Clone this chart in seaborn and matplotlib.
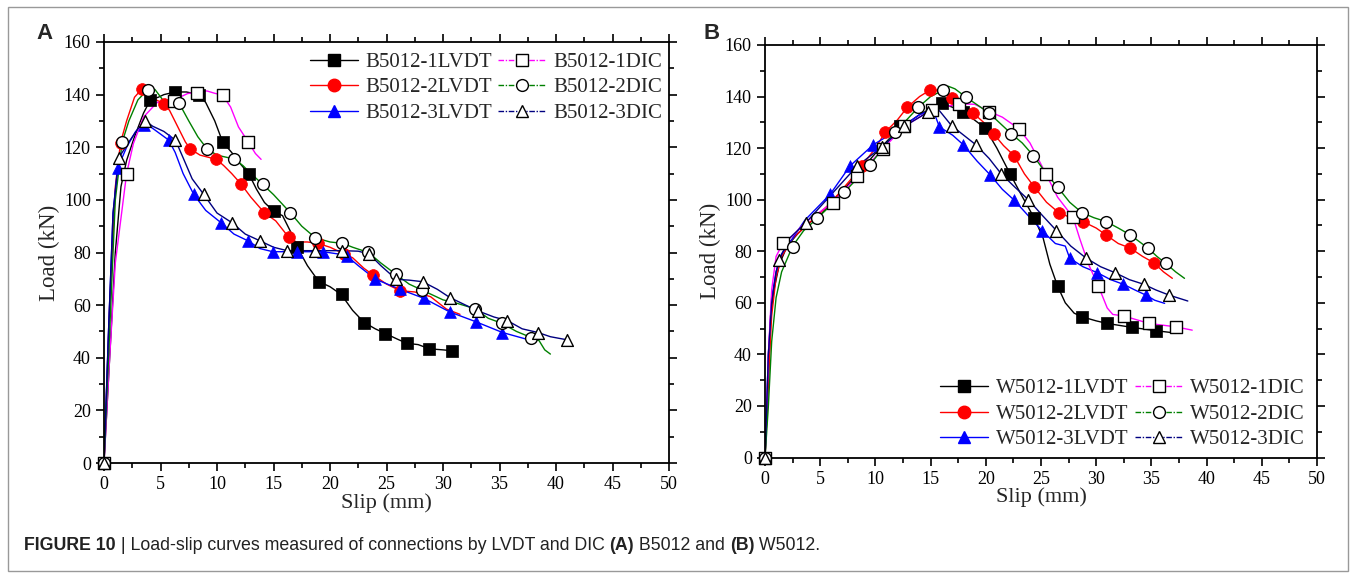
import matplotlib
matplotlib.use('Agg')
import matplotlib.pyplot as plt
from matplotlib.lines import Line2D
from matplotlib.patches import Rectangle
from matplotlib.ticker import MultipleLocator
import seaborn as sns

### DATA ###
## panel A - B5012
a1_lvdt_x = [0, 0.5, 1, 1.5, 2, 2.7, 3.5, 4.1, 4.8, 5.3, 6.3, 7.3, 8.4, 9, 9.8, 10.5, 11.3, 12, 12.8, 13.5, 14.2, 15, 15.8, 16.5, 17.1, 18, 19, 20, 21, 22, 23, 24, 25, 26, 26.8, 27.8, 28.8, 30, 31.2]
a1_lvdt_y = [0, 40, 80, 105, 115, 124, 133, 138, 139, 140, 141, 141, 140, 137, 130, 122, 118, 114, 110, 104, 99, 95.7, 94, 88, 82, 75, 69, 67, 64, 58, 53.5, 51, 49, 47, 45.5, 45, 43.4, 43, 42.5]
a1_lvdt_mx = [0, 4.1, 6.3, 8.4, 10.5, 12.8, 15.0, 17.1, 19.0, 21.1, 23.0, 24.9, 26.8, 28.8, 30.8]
a1_lvdt_my = [0, 138.1, 141.0, 139.8, 122.1, 109.8, 95.7, 82.0, 68.9, 64.2, 53.4, 49.0, 45.5, 43.4, 42.7]

a1_dic_x = [0, 0.5, 1.0, 2.0, 2.6, 3.5, 4.7, 6.2, 7.4, 9.1, 9.8, 10.5, 11.2, 11.9, 12.75, 13.4, 13.9]
a1_dic_y = [0, 40, 76, 110, 121.4, 131.5, 137, 138, 140.4, 141.4, 140.5, 139.8, 135.3, 127.7, 122.1, 117.6, 115.4]
a1_dic_mx = [0, 2.0, 6.2, 8.2, 10.5, 12.75]
a1_dic_my = [0, 109.8, 137.6, 140.7, 139.8, 122.1]

a2_lvdt_x = [0, 0.5, 1, 1.46, 2, 2.7, 3.38, 4, 4.6, 5.29, 5.8, 6.5, 7.2, 7.65, 8.5, 9.95, 10.6, 11.3, 12.13, 13, 14.19, 15.2, 16.34, 17, 18, 18.9, 20, 21, 22, 23, 23.8, 25, 26.2, 27.5, 28.9, 30.3, 31.5]
a2_lvdt_y = [0, 60, 105, 121.7, 130, 139, 142.3, 141, 138, 136.6, 134, 128, 122, 119.3, 117, 115.4, 113, 110, 106, 101, 95.1, 92, 85.8, 84, 84, 83.5, 82, 80, 78, 74, 71.5, 68, 65.5, 65, 63.2, 58.5, 56.5]
a2_lvdt_mx = [0, 1.46, 3.38, 5.29, 7.65, 9.95, 12.13, 14.19, 16.34, 18.9, 21.2, 23.8, 26.2]
a2_lvdt_my = [0, 121.7, 142.3, 136.6, 119.3, 115.4, 106.0, 95.1, 85.8, 83.5, 79.5, 71.5, 65.5]

a2_dic_x = [0, 0.5, 1, 1.61, 2.2, 3, 3.87, 4.5, 5.2, 6.61, 7.5, 8.3, 9.13, 10, 11.54, 12.3, 13, 14.04, 15, 16.49, 17.5, 18.7, 20, 21.1, 22, 23.4, 24.5, 25.8, 27, 28.1, 29, 30, 31, 32.85, 34, 35.2, 36.5, 37.8, 38.5, 39, 39.5]
a2_dic_y = [0, 50, 100, 122, 130, 138, 141.9, 142, 138, 137, 130, 124, 119.3, 117, 115.5, 113, 110, 105.9, 102, 95.1, 90, 85.6, 84, 83.5, 82, 80, 76, 71.8, 68, 65.8, 64, 62, 61, 58.6, 55, 53.1, 50, 47.7, 46.5, 43, 41.4]
a2_dic_mx = [0, 1.61, 3.87, 6.61, 9.13, 11.54, 14.04, 16.49, 18.7, 21.1, 23.4, 25.8, 28.1, 32.85, 35.2, 37.8]
a2_dic_my = [0, 122.1, 141.9, 137.0, 119.3, 115.5, 105.9, 95.1, 85.6, 83.5, 80.3, 71.8, 65.8, 58.6, 53.1, 47.7]

a3_lvdt_x = [0, 0.4, 0.8, 1.2, 2, 2.8, 3.5, 4.2, 5, 5.73, 6.3, 7, 7.94, 9, 10.36, 11.5, 12.71, 13.8, 14.93, 17.08, 19.38, 21.4, 22.5, 24, 26.2, 28.3, 30.6, 32.9, 35.26, 37.6]
a3_lvdt_y = [0, 50, 95, 112, 120, 126, 128.5, 127.5, 125, 122.7, 118, 110, 102.1, 96, 91.3, 87, 84.5, 81.5, 80.3, 80.3, 80.3, 79, 75, 69.9, 66, 62.6, 57.4, 53.7, 49.6, 46.8]
a3_lvdt_mx = [0, 1.2, 3.5, 5.73, 7.94, 10.36, 12.71, 14.93, 17.08, 19.38, 21.5, 24.0, 26.2, 28.3, 30.6, 32.9, 35.26]
a3_lvdt_my = [0, 112, 128.5, 122.7, 102.1, 91.3, 84.5, 80.3, 80.3, 80.3, 78.6, 69.9, 66, 62.6, 57.4, 53.7, 49.6]

a3_dic_x = [0, 0.4, 0.8, 1.31, 2.2, 3, 3.67, 4.3, 5.3, 6.32, 7, 7.8, 8.82, 10, 11.33, 12.5, 13.77, 15, 16.2, 18.64, 21.06, 22.5, 23.47, 24.5, 25.86, 27, 28.2, 29.5, 30.6, 32, 33.1, 34.5, 35.7, 37, 38.4, 39.5, 41]
a3_dic_y = [0, 50, 95, 116, 122, 127, 130, 128, 126, 122.7, 116, 108, 102.1, 95, 91.3, 87, 84.5, 82, 80.7, 80.7, 80.7, 80.5, 79.4, 75, 69.8, 69.5, 68.9, 66, 62.9, 60, 57.8, 55.5, 54.1, 51, 49.6, 48, 46.8]
a3_dic_mx = [0, 1.31, 3.67, 6.32, 8.82, 11.33, 13.77, 16.2, 18.64, 21.06, 23.47, 25.86, 28.2, 30.6, 33.1, 35.7, 38.4, 41.0]
a3_dic_my = [0, 116.0, 130.0, 122.7, 102.1, 91.3, 84.5, 80.7, 80.7, 80.7, 79.4, 69.8, 68.9, 62.9, 57.8, 54.1, 49.6, 46.8]

## panel B - W5012
b1_lvdt_x = [0, 0.3, 0.5, 0.8, 1.3, 2, 3, 4, 5, 6, 8, 10, 12, 14, 16, 17.96, 19.93, 21, 22.2, 23.2, 24.4, 25.2, 25.8, 26.5, 27.2, 28, 28.7, 30, 31, 33.2, 35.4, 36.75]
b1_lvdt_y = [0, 30, 55, 65, 75, 82, 87, 91, 94, 99, 108, 118, 127, 133, 137.5, 134.2, 127.8, 120, 110, 102, 92.8, 85, 75, 66.5, 60, 56, 54.6, 53, 52, 50.5, 49.2, 48.5]
b1_lvdt_mx = [0, 12.2, 16.0, 17.96, 19.93, 22.2, 24.4, 26.5, 28.7, 31.0, 33.2, 35.4]
b1_lvdt_my = [0, 128.4, 137.5, 134.2, 127.8, 110.0, 92.8, 66.5, 54.6, 52.0, 50.5, 49.2]

b1_dic_x = [0, 0.3, 0.6, 1, 1.6, 2.5, 3.6, 6.13, 8.36, 10.66, 12.6, 15.1, 17.6, 19, 20.3, 21.5, 23, 24, 25.45, 26.5, 27.9, 28.5, 29.3, 30.2, 31, 31.5, 32.5, 34.8, 37.2, 38.7]
b1_dic_y = [0, 40, 65, 78, 83, 86, 91, 98.9, 109, 119.6, 128.4, 134.9, 137.2, 137, 134.2, 132, 127.5, 122, 110, 101, 93.2, 85, 75, 66.5, 58, 55.5, 54.9, 52, 50.7, 49.4]
b1_dic_mx = [0, 1.6, 6.13, 8.36, 10.66, 12.6, 15.1, 17.6, 20.3, 23.0, 25.45, 27.9, 30.2, 32.5, 34.8, 37.2]
b1_dic_my = [0, 83.1, 98.9, 109.0, 119.6, 128.4, 134.9, 137.2, 134.2, 127.5, 110.0, 93.2, 66.5, 54.9, 52.0, 50.7]

b2_lvdt_x = [0, 0.3, 0.6, 1, 1.5, 2.5, 4, 6, 8, 8.76, 10, 10.87, 12, 12.9, 14, 14.9, 16, 16.9, 18, 18.8, 19.8, 20.7, 21.6, 22.55, 23.5, 24.4, 25.5, 26.6, 27.7, 28.8, 30, 30.9, 32, 33.1, 34.2, 35.2, 36.1, 36.9]
b2_lvdt_y = [0, 30, 55, 70, 78, 85, 91, 99, 109, 113.1, 120, 126.1, 131, 135.9, 140, 142.4, 142.5, 139.4, 136.5, 133.8, 130, 125.6, 121, 117.1, 110, 104.9, 99, 95, 93, 91.5, 89, 86.3, 83, 81.2, 78, 75.6, 72, 69.5]
b2_lvdt_mx = [0, 8.76, 10.87, 12.9, 14.9, 16.9, 18.8, 20.7, 22.55, 24.4, 26.6, 28.8, 30.9, 33.1, 35.2]
b2_lvdt_my = [0, 113.1, 126.1, 135.9, 142.4, 139.4, 133.8, 125.6, 117.1, 104.9, 95.0, 91.5, 86.3, 81.2, 75.6]

b2_dic_x = [0, 0.3, 0.6, 1, 1.5, 2.5, 3.5, 4.74, 7.16, 9.51, 11.78, 13.9, 15, 16.1, 16.6, 17.2, 18.2, 20.3, 22.3, 23.3, 24.3, 25.5, 26.5, 27.6, 28.7, 29.8, 30.9, 32, 33.1, 34.7, 35.5, 36.3, 37.2, 38]
b2_dic_y = [0, 20, 45, 62, 72, 82, 88, 92.8, 102.8, 113.5, 126.1, 135.9, 140, 142.4, 144, 143, 139.8, 133.6, 125.6, 122, 117.1, 110, 104.9, 99, 95, 93, 91.5, 89, 86.3, 81.2, 78, 75.3, 72, 69.5]
b2_dic_mx = [0, 2.5, 4.74, 7.16, 9.51, 11.78, 13.9, 16.1, 18.2, 20.3, 22.3, 24.3, 26.5, 28.7, 30.9, 33.1, 34.7, 36.3]
b2_dic_my = [0, 81.8, 92.8, 102.8, 113.5, 126.1, 135.9, 142.4, 139.8, 133.6, 125.6, 117.1, 104.9, 95.0, 91.5, 86.3, 81.2, 75.3]

b3_lvdt_x = [0, 0.3, 0.6, 1, 1.5, 2.5, 3.6, 5.9, 7.7, 9.8, 12, 14, 15.2, 15.8, 17, 17.96, 19.2, 20.4, 21.5, 22.55, 23.8, 25.1, 26.3, 27.2, 27.6, 28.8, 30.1, 31.3, 32.45, 33.5, 34.5, 35.3, 36.2]
b3_lvdt_y = [0, 40, 62, 72, 79, 85, 92, 102.1, 113.1, 121.3, 127, 133, 135, 128.2, 125, 121.3, 115, 109.6, 104, 99.9, 94, 88, 83, 82, 77.3, 74, 71.7, 69, 67.2, 65, 63, 61, 59.8]
b3_lvdt_mx = [0, 5.9, 7.7, 9.8, 15.8, 17.96, 20.4, 22.55, 25.1, 27.6, 30.1, 32.45, 34.5]
b3_lvdt_my = [0, 102.1, 113.1, 121.3, 128.2, 121.3, 109.6, 99.9, 88.0, 77.3, 71.7, 67.2, 63.0]

b3_dic_x = [0, 0.3, 0.6, 1, 1.27, 2.2, 3.7, 6, 8.3, 10.57, 12.6, 14, 14.8, 15.8, 16.9, 18, 19.1, 20.3, 21.4, 22.6, 23.85, 25.1, 26.4, 27.7, 29.1, 30.4, 31.7, 33, 34.3, 35.4, 36.6, 38.3]
b3_dic_y = [0, 40, 60, 72, 76.6, 85, 91.1, 102, 112.9, 120.4, 128.4, 132, 134.2, 134.5, 128.7, 125, 121.3, 116, 110, 105, 100, 94, 88, 82, 77.3, 74, 71.7, 69, 67.2, 65, 63, 60.7]
b3_dic_mx = [0, 1.27, 3.7, 8.3, 10.57, 12.6, 14.8, 16.9, 19.1, 21.4, 23.85, 26.4, 29.1, 31.7, 34.3, 36.6]
b3_dic_my = [0, 76.6, 91.1, 112.9, 120.4, 128.4, 134.2, 128.7, 121.3, 110.0, 99.9, 88.0, 77.3, 71.7, 67.2, 63.0]

labels_a = ['B5012-1LVDT', 'B5012-2LVDT', 'B5012-3LVDT', 'B5012-1DIC', 'B5012-2DIC', 'B5012-3DIC']
labels_b = ['W5012-1LVDT', 'W5012-2LVDT', 'W5012-3LVDT', 'W5012-1DIC', 'W5012-2DIC', 'W5012-3DIC']
caption_parts = [('FIGURE 10', 'bold'), (' | Load-slip curves measured of connections by LVDT and DIC ', 'normal'),
                 ('(A)', 'bold'), (' B5012 and ', 'normal'), ('(B)', 'bold'), (' W5012.', 'normal')]

### STYLES ###
lvdt_styles = [('black', 's'), ('red', 'o'), ('blue', '^')]
dic_styles = [('#ff00ff', 's'), ('#008000', 'o'), ('#000080', '^')]
dic_dash = (0, (4, 1.2, 1, 1.2))

sns.set_style('ticks')
plt.rcParams['font.family'] = ['Liberation Serif', 'DejaVu Serif']


def drawSeries(ax, x, y, mx, my, color, marker, filled):
    sns.lineplot(x=x, y=y, ax=ax, sort=False, estimator=None, color=color, linewidth=1.0)
    if filled:
        sns.scatterplot(x=mx, y=my, ax=ax, marker=marker, s=72, color=color, edgecolor=color,
                        linewidth=0.5, zorder=4, clip_on=False)
    else:
        sns.scatterplot(x=mx, y=my, ax=ax, marker=marker, s=72, facecolor='white', edgecolor='black',
                        linewidth=1.0, zorder=5, clip_on=False)


def formatAxis(ax):
    ax.set_xlim(0, 50)
    ax.set_ylim(0, 160)
    ax.xaxis.set_major_locator(MultipleLocator(5))
    ax.xaxis.set_minor_locator(MultipleLocator(2.5))
    ax.yaxis.set_major_locator(MultipleLocator(20))
    ax.yaxis.set_minor_locator(MultipleLocator(10))
    ax.tick_params(which='both', direction='out', top=True, right=True, width=1.2, colors='black')
    ax.tick_params(which='major', length=6, labelsize=13)
    ax.tick_params(which='minor', length=3.5)
    for sp in ax.spines.values():
        sp.set_visible(True)
        sp.set_linewidth(1.3)
        sp.set_color('black')
    ax.set_xlabel('Slip (mm)', fontsize=16, labelpad=0)
    ax.set_ylabel('Load (kN)', fontsize=16.5, labelpad=3)


def legendHandles():
    hs = []
    for c, m in lvdt_styles:
        hs.append(Line2D([], [], color=c, lw=1.0, marker=m, markersize=9, markerfacecolor=c, markeredgecolor=c))
    for c, m in dic_styles:
        hs.append(Line2D([], [], color=c, lw=1.0, ls=dic_dash, marker=m, markersize=8.5,
                         markerfacecolor='white', markeredgecolor='black'))
    return hs


fig = plt.figure(figsize=(13.56, 5.79), dpi=100)
ax1 = fig.add_axes([0.0767, 0.2003, 0.4167, 0.7272])
ax2 = fig.add_axes([0.5642, 0.2098, 0.4070, 0.7125])

## panel A
series_a = [(a1_lvdt_x, a1_lvdt_y, a1_lvdt_mx, a1_lvdt_my), (a2_lvdt_x, a2_lvdt_y, a2_lvdt_mx, a2_lvdt_my),
            (a3_lvdt_x, a3_lvdt_y, a3_lvdt_mx, a3_lvdt_my)]
dics_a = [(a1_dic_x, a1_dic_y, a1_dic_mx, a1_dic_my), (a2_dic_x, a2_dic_y, a2_dic_mx, a2_dic_my),
          (a3_dic_x, a3_dic_y, a3_dic_mx, a3_dic_my)]
for (x, y, mx, my), (c, m) in zip(series_a, lvdt_styles):
    drawSeries(ax1, x, y, mx, my, c, m, True)
for (x, y, mx, my), (c, m) in zip(dics_a, dic_styles):
    drawSeries(ax1, x, y, mx, my, c, m, False)

## panel B
series_b = [(b1_lvdt_x, b1_lvdt_y, b1_lvdt_mx, b1_lvdt_my), (b2_lvdt_x, b2_lvdt_y, b2_lvdt_mx, b2_lvdt_my),
            (b3_lvdt_x, b3_lvdt_y, b3_lvdt_mx, b3_lvdt_my)]
dics_b = [(b1_dic_x, b1_dic_y, b1_dic_mx, b1_dic_my), (b2_dic_x, b2_dic_y, b2_dic_mx, b2_dic_my),
          (b3_dic_x, b3_dic_y, b3_dic_mx, b3_dic_my)]
for (x, y, mx, my), (c, m) in zip(series_b, lvdt_styles):
    drawSeries(ax2, x, y, mx, my, c, m, True)
for (x, y, mx, my), (c, m) in zip(dics_b, dic_styles):
    drawSeries(ax2, x, y, mx, my, c, m, False)

for ax in (ax1, ax2):
    formatAxis(ax)

leg_kw = dict(ncol=2, frameon=False, fontsize=15, handlelength=2.3, handletextpad=0.35,
              columnspacing=0.3, labelspacing=0.28, borderpad=0.2)
ax1.legend(legendHandles(), labels_a, loc='upper right', bbox_to_anchor=(0.995, 0.985), borderaxespad=0, **leg_kw)
ax2.legend(legendHandles(), labels_b, loc='lower right', bbox_to_anchor=(0.985, 0.01), borderaxespad=0, **leg_kw)

## panel letters
fig.text(0.0325, 0.943, 'A', fontsize=16, fontweight='bold', family='Liberation Sans', va='center', ha='center')
fig.text(0.525, 0.943, 'B', fontsize=16, fontweight='bold', family='Liberation Sans', va='center', ha='center')

## caption, placed piece by piece
fig.canvas.draw()
renderer = fig.canvas.get_renderer()
xpos = 24 / 1356
for txt, w in caption_parts:
    t = fig.text(xpos, 1 - 545 / 579, txt, fontsize=12.8, fontweight=w, family='Liberation Sans',
                 va='center', ha='left', color='#222222')
    bb = t.get_window_extent(renderer)
    xpos += bb.width / 1356

## outer frame
fig.patches.append(Rectangle((8 / 1356, 8 / 579), 1 - 16 / 1356, 1 - 15 / 579, transform=fig.transFigure,
                             fill=False, edgecolor='#999999', linewidth=1.0))

fig.savefig('out.png', dpi=100)
